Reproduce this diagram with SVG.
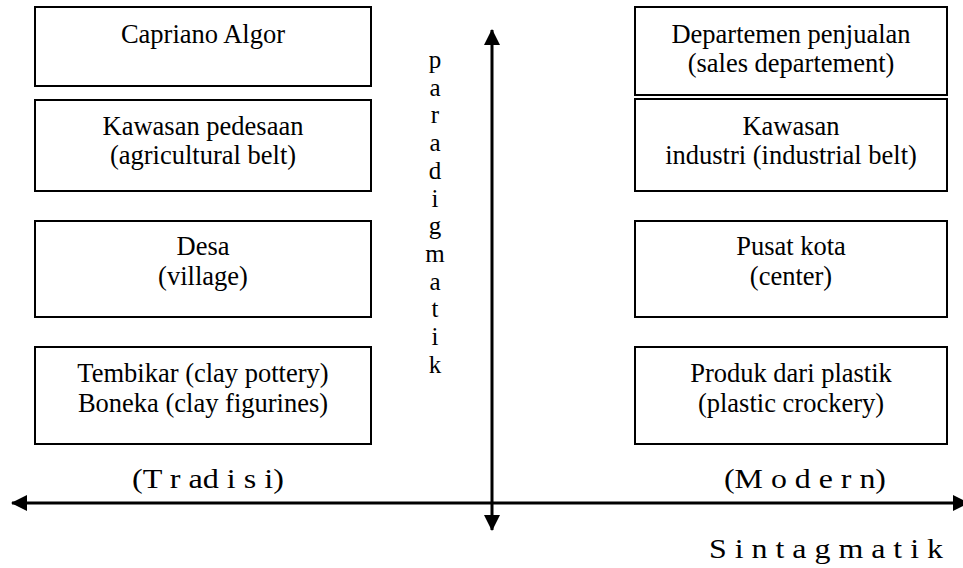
<svg xmlns="http://www.w3.org/2000/svg" width="963" height="568" viewBox="0 0 963 568" font-family="'Liberation Serif', 'DejaVu Serif', serif">
<defs>
<marker id="ah" markerWidth="16" markerHeight="16" viewBox="0 0 16 16" refX="15" refY="8" orient="auto-start-reverse" markerUnits="userSpaceOnUse">
<path d="M0,0 L16,8 L0,16 Z" fill="#000"/>
</marker>
</defs>
<style>
.box{fill:#fff;stroke:#000;stroke-width:2}
text{font-family:'Liberation Serif','DejaVu Serif',serif;fill:#000}
.t{font-size:26.5px;text-anchor:middle}
.v{font-size:25px;text-anchor:middle}
.s{font-size:26.5px;text-anchor:start}
.ax{stroke:#000;stroke-width:3;fill:none}
</style>
<rect width="963" height="568" fill="#fff"/>
<g id="n-capriano"><rect class="box" x="35" y="7" width="336" height="79"/><text class="t" x="203" y="43">Capriano Algor</text></g>
<g id="n-kawasan-pedesaan"><rect class="box" x="35" y="100" width="336" height="91"/><text class="t" x="203" y="135">Kawasan pedesaan</text><text class="t" x="203" y="164">(agricultural belt)</text></g>
<g id="n-desa"><rect class="box" x="35" y="221" width="336" height="96"/><text class="t" x="203" y="255">Desa</text><text class="t" x="203" y="285">(village)</text></g>
<g id="n-tembikar"><rect class="box" x="35" y="347" width="336" height="97"/><text class="t" x="203" y="382">Tembikar (clay pottery)</text><text class="t" x="203" y="412">Boneka (clay figurines)</text></g>
<g id="n-departemen"><rect class="box" x="635" y="7" width="312" height="88"/><text class="t" x="791" y="43">Departemen penjualan</text><text class="t" x="791" y="72">(sales departement)</text></g>
<g id="n-kawasan-industri"><rect class="box" x="635" y="99" width="312" height="92"/><text class="t" x="791" y="135">Kawasan</text><text class="t" x="791" y="164">industri (industrial belt)</text></g>
<g id="n-pusat"><rect class="box" x="635" y="221" width="312" height="96"/><text class="t" x="791" y="255">Pusat kota</text><text class="t" x="791" y="285">(center)</text></g>
<g id="n-produk"><rect class="box" x="635" y="347" width="312" height="97"/><text class="t" x="791" y="382">Produk dari plastik</text><text class="t" x="791" y="412">(plastic crockery)</text></g>
<g id="connectors">
<line class="ax" x1="492" y1="530" x2="492" y2="30" marker-start="url(#ah)" marker-end="url(#ah)"/>
<line class="ax" x1="12" y1="503" x2="968" y2="503" marker-start="url(#ah)" marker-end="url(#ah)"/>
</g>
<g id="labels">
<text class="v" x="435" y="68">p</text>
<text class="v" x="435" y="95.7">a</text>
<text class="v" x="435" y="123.4">r</text>
<text class="v" x="435" y="151.1">a</text>
<text class="v" x="435" y="178.8">d</text>
<text class="v" x="435" y="206.5">i</text>
<text class="v" x="435" y="234.2">g</text>
<text class="v" x="435" y="261.9">m</text>
<text class="v" x="435" y="289.6">a</text>
<text class="v" x="435" y="317.3">t</text>
<text class="v" x="435" y="345">i</text>
<text class="v" x="435" y="372.7">k</text>
<text class="s" x="132" y="488" textLength="152" lengthAdjust="spacingAndGlyphs">(T r ad i s i)</text>
<text class="s" x="724" y="488" textLength="162" lengthAdjust="spacingAndGlyphs">(M o d e r n)</text>
<text class="s" x="709" y="558" textLength="234" lengthAdjust="spacingAndGlyphs">S i n t a g m a t i k</text>
</g>
</svg>
